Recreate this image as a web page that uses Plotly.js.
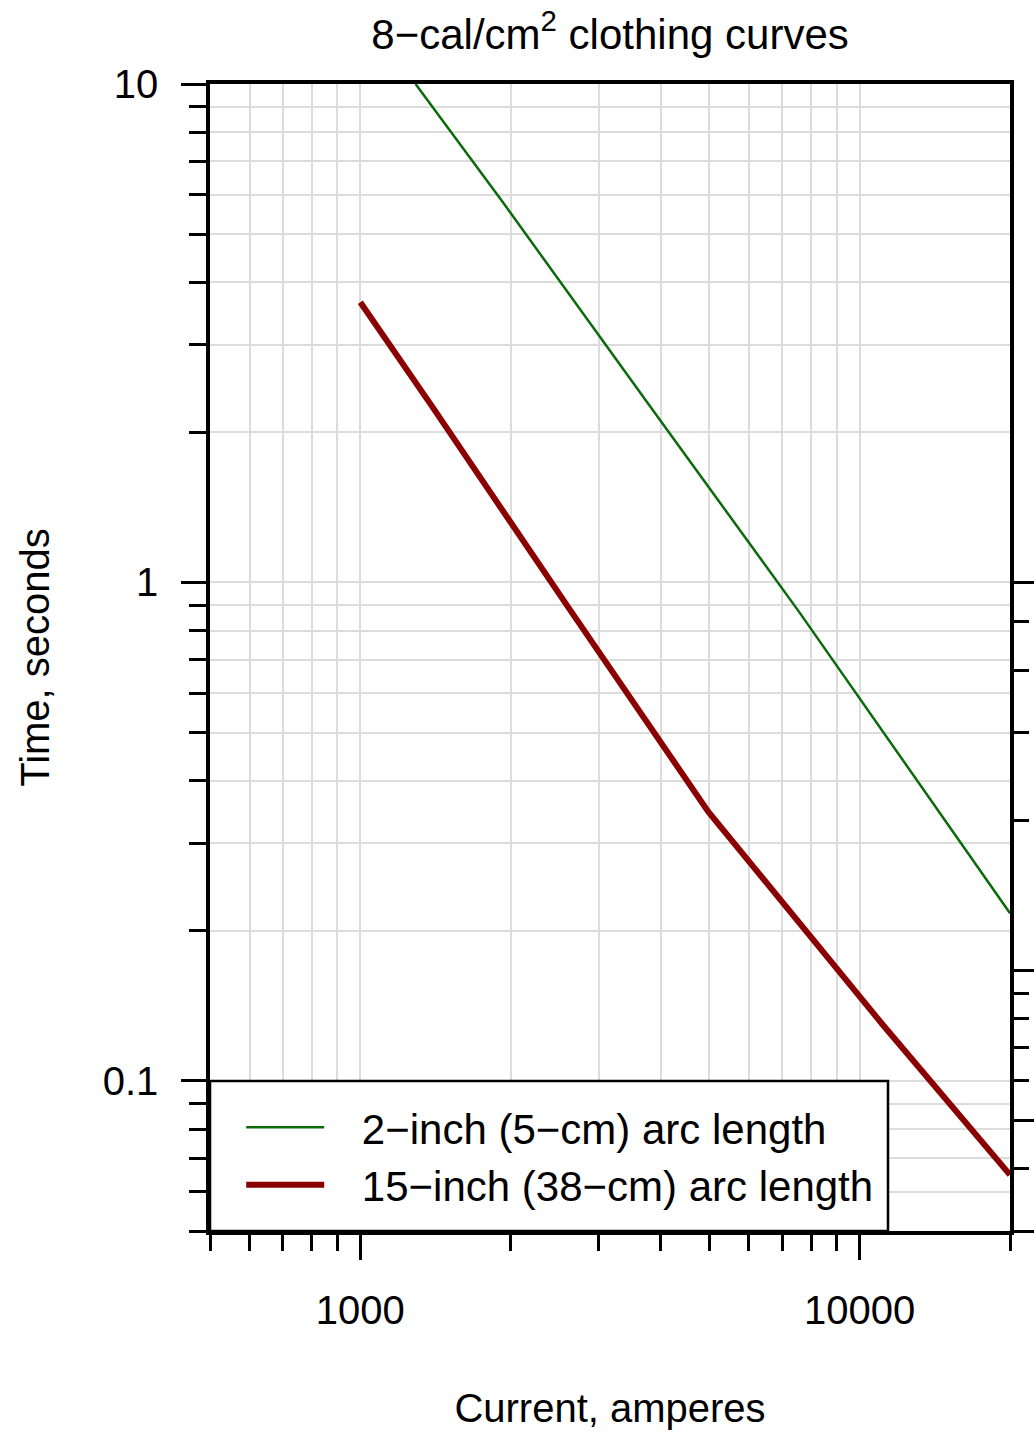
<!DOCTYPE html>
<html>
<head>
<meta charset="utf-8">
<script src="https://cdn.plot.ly/plotly-3.0.1.min.js"></script>
<style>html,body{margin:0;padding:0;background:#fff}</style>
</head>
<body>
<div id="chart" style="width:1034px;height:1432px"></div>
<script>
// ---- data ----
const greenCurrent = [1290, 1920, 3800, 7550, 20000];
const greenTime    = [10, 5.83, 2.26, 0.875, 0.217];
const redCurrent   = [1000, 1391, 2630, 4974, 11135, 20000];
const redTime      = [3.65, 2.258, 0.881, 0.347, 0.1295, 0.0648];
const seriesNames  = ['2\u2212inch (5\u2212cm) arc length', '15\u2212inch (38\u2212cm) arc length'];

const xMajorTicks  = [1000, 10000];
const xMajorLabels = ['1000', '10000'];
const xMinorTicks  = [500, 600, 700, 800, 900, 2000, 3000, 4000, 5000, 6000, 7000, 8000, 9000, 20000];
const yMajorTicks  = [0.1, 1, 10];
const yMajorLabels = ['0.1', '1', '10'];
const yMinorTicks  = [0.05, 0.06, 0.07, 0.08, 0.09, 0.2, 0.3, 0.4, 0.5, 0.6, 0.7, 0.8, 0.9, 2, 3, 4, 5, 6, 7, 8, 9];
const cycleMajorTicks = [3, 5, 10, 60];
const cycleMinorTicks = [4, 6, 7, 8, 9, 20, 30, 40, 50];

const FONT = '"Liberation Sans", Arial, Helvetica, sans-serif';
const GRID = '#dcdcdc';
const pad = '\u2002\u00a0';
const xRange = [Math.log10(500), Math.log10(20000)];

const traces = [
  {x: greenCurrent, y: greenTime, name: pad + seriesNames[0], mode: 'lines',
   line: {color: '#0b6b0b', width: 2.5}, hoverinfo: 'x+y'},
  {x: redCurrent, y: redTime, name: pad + seriesNames[1], mode: 'lines',
   line: {color: '#8b0000', width: 6}, hoverinfo: 'x+y'},
  {x: [], y: [], xaxis: 'x2', yaxis: 'y2', mode: 'lines', showlegend: false, hoverinfo: 'skip'}
];

const tickFont = {family: FONT, size: 40, color: '#000'};

const layout = {
  width: 1034, height: 1432,
  margin: {l: 210, r: 24, t: 84, b: 201, pad: 0},
  paper_bgcolor: '#fff', plot_bgcolor: 'rgba(0,0,0,0)',
  font: {family: FONT, size: 40, color: '#000'},
  showlegend: true,
  title: {text: '8\u2212cal/cm<sup>2</sup> clothing curves', font: {family: FONT, size: 42, color: '#000'},
          xref: 'container', yref: 'container', x: 0.59, xanchor: 'center', y: 0.976, yanchor: 'middle'},
  xaxis: {
    type: 'log', range: xRange,
    tickmode: 'array', tickvals: xMajorTicks, ticktext: xMajorLabels,
    ticks: 'outside', ticklen: 25, tickwidth: 3, tickcolor: '#000',
    showline: true, linewidth: 3.5, linecolor: '#000', mirror: true,
    showgrid: true, gridcolor: GRID, gridwidth: 1.6, zeroline: false,
    minor: {tickmode: 'array', tickvals: xMinorTicks, ticks: 'outside', ticklen: 16, tickwidth: 3,
            tickcolor: '#000', showgrid: true, gridcolor: GRID, gridwidth: 1.6},
    tickfont: tickFont, ticklabelstandoff: 16,
    title: {text: 'Current, amperes', font: {family: FONT, size: 40, color: '#000'}, standoff: 64},
    fixedrange: true
  },
  xaxis2: {
    type: 'log', range: xRange, overlaying: 'x', anchor: 'y2',
    showgrid: false, showline: false, zeroline: false, ticks: '', showticklabels: false,
    fixedrange: true
  },
  yaxis: {
    type: 'log', range: [Math.log10(0.05), 1], domain: [0, 1],
    tickmode: 'array', tickvals: yMajorTicks, ticktext: yMajorLabels,
    ticks: 'outside', ticklen: 25, tickwidth: 3, tickcolor: '#000',
    showline: true, linewidth: 3.5, linecolor: '#000', mirror: true,
    showgrid: true, gridcolor: GRID, gridwidth: 1.6, zeroline: false,
    minor: {tickmode: 'array', tickvals: yMinorTicks, ticks: 'outside', ticklen: 17, tickwidth: 3,
            tickcolor: '#000', showgrid: true, gridcolor: GRID, gridwidth: 1.6},
    tickfont: tickFont, ticklabelstandoff: 15,
    title: {text: 'Time, seconds', font: {family: FONT, size: 40, color: '#000'}, standoff: 42},
    fixedrange: true
  },
  yaxis2: {
    type: 'log', anchor: 'x2', side: 'right',
    domain: [0, Math.log10(20) / (1 - Math.log10(0.05))],
    range: [Math.log10(3), Math.log10(60)],
    tickmode: 'array', tickvals: cycleMajorTicks, showticklabels: false,
    ticks: 'outside', ticklen: 25, tickwidth: 3, tickcolor: '#000',
    showline: true, linewidth: 3.5, linecolor: '#000',
    showgrid: false, zeroline: false,
    minor: {tickmode: 'array', tickvals: cycleMinorTicks, ticks: 'outside', ticklen: 15, tickwidth: 3,
            tickcolor: '#000', showgrid: false},
    fixedrange: true
  },
  legend: {
    x: 0.039, y: 0.12, xanchor: 'left', yanchor: 'top',
    bgcolor: 'rgba(0,0,0,0)', borderwidth: 0,
    font: {family: FONT, size: 42, color: '#000'},
    itemwidth: 78, tracegroupgap: 0
  },
  shapes: [
    {type: 'rect', xref: 'paper', yref: 'paper', x0: 0, x1: 0.8475, y0: 0, y1: 0.1308,
     line: {color: '#000', width: 2.5}, fillcolor: '#fff', layer: 'above'}
  ]
};

Plotly.newPlot('chart', traces, layout, {displayModeBar: false, responsive: false});
</script>
</body>
</html>
